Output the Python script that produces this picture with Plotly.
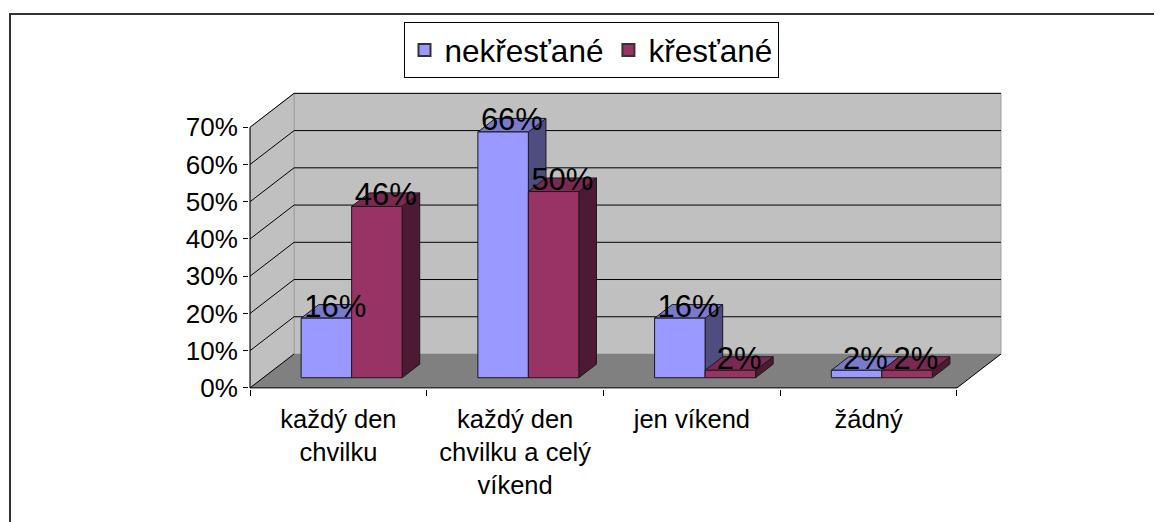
import plotly.graph_objects as go

# ---- data ----
categories = ["každý den<br>chvilku", "každý den<br>chvilku a celý<br>víkend", "jen víkend", "žádný"]
series_names = ["nekřesťané", "křesťané"]
nekrestane = [16, 66, 16, 2]
krestane = [46, 50, 2, 2]
y_ticks = [0, 10, 20, 30, 40, 50, 60, 70]

# ---- styling / geometry ----
FONT = "Liberation Sans, Arial, sans-serif"
front_cols = ["#9999FF", "#993366"]
top_cols = ["#7A7ACC", "#7A2952"]
side_cols = ["#4D4D80", "#4D1A33"]
BAR_W = 1 / 3.5          # gap width 150%
GAP = 0.75 * BAR_W
DX, DY = 0.249, 9.1      # full depth offset in data units
D0, D1 = 0.3, 0.7        # bar front / back depth fraction
YMAX = y_ticks[-1]
NCAT = len(categories)
OFF = 8                  # page body margin


def P(x, y, d):
    return x + d * DX, y + d * DY


def poly(pts):
    xs = [P(*p)[0] for p in pts] + [P(*pts[0])[0]]
    ys = [P(*p)[1] for p in pts] + [P(*pts[0])[1]]
    return xs, ys


fig = go.Figure()


def add_poly(pts, fill, line_color=None, lw=1):
    xs, ys = poly(pts)
    fig.add_trace(go.Scatter(
        x=xs, y=ys, mode="lines", fill="toself", fillcolor=fill,
        line=dict(color=line_color or fill, width=lw if line_color else 0),
        hoverinfo="skip", showlegend=False))


# walls and floor
add_poly([(0, 0, 1), (NCAT, 0, 1), (NCAT, YMAX, 1), (0, YMAX, 1)], "#C0C0C0", "#A0A0A0", 1)
add_poly([(0, 0, 0), (0, 0, 1), (0, YMAX, 1), (0, YMAX, 0)], "#C0C0C0", "#A0A0A0", 1)
add_poly([(0, 0, 0), (NCAT, 0, 0), (NCAT, 0, 1), (0, 0, 1)], "#808080")

# gridlines
gx, gy = [], []
for k in y_ticks[1:]:
    for p in [(0, k, 0), (0, k, 1), (NCAT, k, 1)]:
        px, py = P(*p)
        gx.append(px); gy.append(py)
    gx.append(None); gy.append(None)
fig.add_trace(go.Scatter(x=gx, y=gy, mode="lines", line=dict(color="black", width=1),
                         hoverinfo="skip", showlegend=False))

# floor edges and vertical axis line
ex, ey = [], []
for seg in [[(0, 0, 1), (0, 0, 0), (NCAT, 0, 0), (NCAT, 0, 1)], [(0, 0, 0), (0, YMAX, 0)]]:
    for p in seg:
        px, py = P(*p)
        ex.append(px); ey.append(py)
    ex.append(None); ey.append(None)
fig.add_trace(go.Scatter(x=ex, y=ey, mode="lines", line=dict(color="black", width=1),
                         hoverinfo="skip", showlegend=False))

# bars
values = [nekrestane, krestane]
lab_x, lab_y, lab_t = [], [], []
for i in range(NCAT):
    for j, vals in enumerate(values):
        v = vals[i]
        x0 = i + GAP + j * BAR_W
        x1 = x0 + BAR_W
        add_poly([(x1, 0, D0), (x1, 0, D1), (x1, v, D1), (x1, v, D0)], side_cols[j], "#1a1a1a", 1)
        add_poly([(x0, v, D0), (x1, v, D0), (x1, v, D1), (x0, v, D1)], top_cols[j], "#1a1a1a", 1)
        add_poly([(x0, 0, D0), (x1, 0, D0), (x1, v, D0), (x0, v, D0)], front_cols[j], "#1a1a1a", 1)
        cx, cy = P((x0 + x1) / 2, v, 0.5)
        lab_x.append(cx); lab_y.append(cy + 0.7); lab_t.append(f"{v}%")

fig.add_trace(go.Scatter(x=lab_x, y=lab_y, mode="text", text=lab_t,
                         textposition="middle center", cliponaxis=False,
                         textfont=dict(family=FONT, size=31, color="black"),
                         hoverinfo="skip", showlegend=False))

# legend entries
for j, name in enumerate(series_names):
    fig.add_trace(go.Scatter(x=[None], y=[None], mode="markers", name=name,
                             marker=dict(symbol="square", size=17, color=front_cols[j],
                                         line=dict(color="#333333", width=1))))

# figure size/margins compensating for the page body margin
W, H = 1162 - OFF, 522 - OFF
L, R, T, B = 249 - OFF, 152, 90 - OFF, 133
pw, ph = W - L - R, H - T - B
def fx(px): return (px - OFF - L) / pw
def fy(py): return (H - B - (py - OFF)) / ph

fig.update_layout(
    width=W, height=H,
    margin=dict(l=L, r=R, t=T, b=B),
    paper_bgcolor="white", plot_bgcolor="white",
    font=dict(family=FONT, color="black"),
    showlegend=True,
    legend=dict(orientation="h", xref="container", yref="container",
                x=(591 - OFF) / W, xanchor="center", y=1 - (22 - OFF) / H, yanchor="top",
                bgcolor="white", bordercolor="black", borderwidth=1,
                font=dict(family=FONT, size=31.5, color="black"),
                itemsizing="constant"),
    xaxis=dict(range=[-0.006, 4.3], showgrid=False, zeroline=False, showline=False,
               tickmode="array", tickvals=[i + 0.5 for i in range(NCAT)], ticktext=categories,
               ticks="", ticklabelstandoff=12, tickfont=dict(family=FONT, size=25.5, color="black"),
               minor=dict(tickmode="array", tickvals=list(range(NCAT + 1)), ticks="outside",
                          ticklen=6, tickcolor="black", tickwidth=1, showgrid=False),
               fixedrange=True),
    yaxis=dict(range=[-0.3, 80], showgrid=False, zeroline=False, showline=False,
               tickmode="array", tickvals=y_ticks, ticktext=[f"{t}%" for t in y_ticks],
               ticks="outside", ticklen=5, tickcolor="black", tickwidth=1,
               tickfont=dict(family=FONT, size=26, color="black"), fixedrange=True),
    shapes=[dict(type="rect", xref="paper", yref="paper",
                 x0=fx(10), x1=fx(1180), y0=fy(540), y1=fy(14),
                 line=dict(color="#333333", width=2), fillcolor="rgba(0,0,0,0)", layer="above")],
)

fig.write_html("out.html")
